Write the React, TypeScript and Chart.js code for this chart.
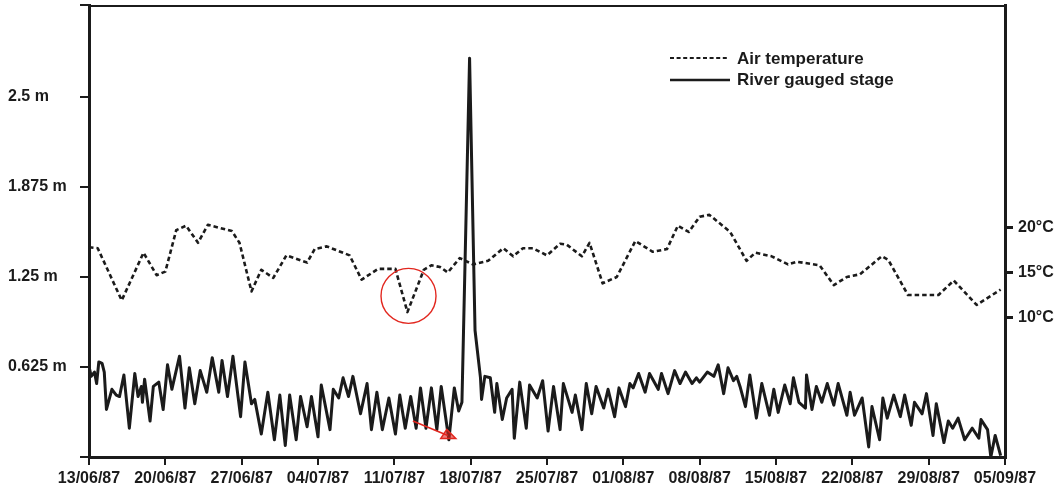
import React, { useEffect, useRef } from 'react';
import { Chart, registerables } from 'chart.js';

Chart.register(...registerables);

// ---- Data ----
// x axis: days since 13/06/87
const xTickDays = [0, 7, 14, 21, 28, 35, 42, 49, 56, 63, 70, 77, 84];
const xTickLabels = ['13/06/87', '20/06/87', '27/06/87', '04/07/87', '11/07/87', '18/07/87', '25/07/87', '01/08/87', '08/08/87', '15/08/87', '22/08/87', '29/08/87', '05/09/87'];

const stageTicks = [0.625, 1.25, 1.875, 2.5];
const stageTickLabels = ['0.625 m', '1.25 m', '1.875 m', '2.5 m'];
const stageMax = 3.139;

const tempTicks = [10, 15, 20];
const tempTickLabels = ['10°C', '15°C', '20°C'];
const tempMin = -5.5;
const tempMax = 44.72;

// River gauged stage (m)
const stageDaysA = [0.0, 0.2, 0.5, 0.7, 0.9, 1.2, 1.4, 1.6, 2.1, 2.5, 2.8, 3.2, 3.7, 4.2, 4.5, 4.8, 4.9, 5.1, 5.6, 5.9, 6.4, 6.8, 7.2, 7.6, 8.3, 8.8, 9.2, 9.7, 10.2, 10.8, 11.3, 11.9, 12.2, 12.7, 13.2, 13.9, 14.3, 14.9, 15.2, 15.8, 16.4, 17.0, 17.5, 18.0, 18.4, 19.0, 19.4, 20.0, 20.4, 21.0, 21.3, 22.1, 22.4, 22.9, 23.3, 23.8, 24.2, 24.9, 25.5, 25.9, 26.4, 26.9, 27.5, 28.1];
const stageValuesA = [0.63, 0.56, 0.59, 0.51, 0.66, 0.65, 0.59, 0.33, 0.47, 0.43, 0.42, 0.57, 0.20, 0.58, 0.42, 0.49, 0.38, 0.54, 0.25, 0.49, 0.52, 0.33, 0.64, 0.47, 0.70, 0.34, 0.62, 0.37, 0.60, 0.45, 0.69, 0.45, 0.67, 0.42, 0.70, 0.28, 0.66, 0.37, 0.40, 0.16, 0.45, 0.12, 0.43, 0.08, 0.43, 0.12, 0.42, 0.21, 0.42, 0.14, 0.50, 0.19, 0.47, 0.41, 0.55, 0.42, 0.56, 0.30, 0.51, 0.19, 0.45, 0.19, 0.41, 0.16];

const stageDaysB = [28.5, 29.0, 29.5, 30.0, 30.4, 30.9, 31.4, 31.9, 32.3, 33.0, 33.5, 33.9, 34.2, 34.9, 35.4, 35.9, 36.0, 36.3, 36.8, 37.2, 37.4, 37.9, 38.3, 38.8, 39.0, 39.5, 40.1, 40.4, 41.1, 41.6, 42.1, 42.6, 43.2, 43.5, 44.3, 44.6, 45.2, 45.6, 46.1, 46.5, 47.2, 47.6, 48.2, 48.6, 49.2, 49.6, 49.9, 50.4, 51.0, 51.4, 52.2, 52.5, 53.1, 53.7, 54.2, 54.7, 55.3, 55.7, 56.0];
const stageValuesB = [0.43, 0.20, 0.42, 0.20, 0.48, 0.20, 0.48, 0.19, 0.49, 0.12, 0.48, 0.32, 0.38, 2.77, 0.88, 0.55, 0.40, 0.56, 0.55, 0.31, 0.51, 0.26, 0.41, 0.47, 0.13, 0.52, 0.20, 0.50, 0.41, 0.53, 0.18, 0.49, 0.19, 0.51, 0.31, 0.43, 0.19, 0.51, 0.30, 0.49, 0.34, 0.47, 0.28, 0.48, 0.35, 0.51, 0.48, 0.58, 0.45, 0.58, 0.47, 0.58, 0.44, 0.60, 0.51, 0.59, 0.51, 0.55, 0.52];

const stageDaysC = [56.7, 57.3, 57.7, 58.2, 58.6, 59.1, 59.4, 59.7, 60.2, 60.6, 61.2, 61.7, 62.4, 62.8, 63.2, 63.8, 64.3, 64.6, 65.1, 65.7, 65.8, 66.3, 66.7, 67.2, 67.7, 68.3, 68.7, 69.5, 69.8, 70.2, 70.9, 71.5, 71.8, 72.5, 72.8, 73.2, 73.8, 74.4, 74.8, 75.4, 75.7, 76.4, 76.8, 77.4, 77.7, 78.4, 78.8, 79.2, 79.7, 80.3, 81.0, 81.6, 81.8, 82.4, 82.7, 83.1, 83.6];
const stageValuesC = [0.59, 0.56, 0.64, 0.44, 0.62, 0.53, 0.56, 0.49, 0.35, 0.57, 0.27, 0.51, 0.29, 0.47, 0.31, 0.50, 0.37, 0.55, 0.38, 0.34, 0.57, 0.33, 0.49, 0.38, 0.51, 0.36, 0.51, 0.29, 0.45, 0.29, 0.41, 0.07, 0.35, 0.12, 0.41, 0.27, 0.43, 0.28, 0.43, 0.22, 0.38, 0.30, 0.44, 0.15, 0.37, 0.10, 0.25, 0.20, 0.27, 0.12, 0.20, 0.13, 0.26, 0.19, 0.00, 0.15, 0.01];

// Air temperature (°C)
const tempDays = [0, 0.8, 3.0, 5.0, 6.2, 7.0, 8.0, 8.9, 10.0, 10.9, 13.1, 13.8, 14.9, 15.8, 16.9, 18.1, 20.0, 20.7, 21.8, 23.9, 25.0, 26.5, 28.1, 29.2, 30.7, 31.4, 32.2, 32.9, 34.0, 35.2, 36.6, 38.0, 38.9, 39.8, 40.7, 42.0, 43.2, 43.8, 45.2, 45.9, 47.1, 48.4, 50.1, 51.7, 53.0, 54.0, 55.0, 56.0, 56.9, 58.8, 60.3, 61.1, 62.6, 64.1, 64.9, 67.0, 68.3, 69.5, 70.7, 72.7, 73.3, 75.1, 77.9, 79.3, 81.4, 83.6];
const tempValues = [17.8, 17.7, 11.9, 17.2, 14.7, 15.1, 19.7, 20.2, 18.3, 20.3, 19.6, 18.3, 12.9, 15.3, 14.4, 16.9, 16.1, 17.6, 17.9, 16.9, 14.2, 15.4, 15.4, 10.6, 15.3, 15.8, 15.6, 15.0, 16.6, 15.9, 16.3, 17.7, 16.8, 17.7, 17.7, 16.9, 18.2, 18.1, 16.8, 18.3, 13.8, 14.5, 18.5, 17.3, 17.6, 20.2, 19.5, 21.2, 21.4, 19.5, 16.3, 17.2, 16.8, 15.9, 16.2, 15.8, 13.6, 14.5, 14.8, 16.8, 16.4, 12.5, 12.5, 14.1, 11.4, 13.1];

// Annotations (in data units)
const circleCentre = { day: 29.3, temp: 12.4 };
const arrowFrom = { day: 29.7, stage: 0.25 };
const arrowTo = { day: 32.9, stage: 0.15 };

// ---- Styles ----
const INK = '#1b1b1b';
const RED = '#e2271f';
const FONT = '"Liberation Sans", Arial, Helvetica, sans-serif';

function pairs(days: number[], vals: number[]) {
  const n = Math.min(days.length, vals.length);
  const out: { x: number; y: number }[] = [];
  for (let i = 0; i < n; i++) out.push({ x: days[i], y: vals[i] });
  return out;
}

const overlayPlugin = {
  id: 'overlay',
  afterDatasetsDraw(chart: any) {
    const { ctx, chartArea, scales } = chart;
    const x = scales.x, yS = scales.yS, yT = scales.yT;
    ctx.save();
    // top frame line
    ctx.strokeStyle = INK;
    ctx.lineWidth = 2;
    ctx.setLineDash([]);
    ctx.beginPath();
    ctx.moveTo(chartArea.left, chartArea.top + 1);
    ctx.lineTo(chartArea.right, chartArea.top + 1);
    ctx.stroke();

    // red circle around the temperature dip
    const cx = x.getPixelForValue(circleCentre.day);
    const cy = yT.getPixelForValue(circleCentre.temp);
    ctx.strokeStyle = RED;
    ctx.lineWidth = 1.4;
    ctx.beginPath();
    ctx.arc(cx, cy, 27.5, 0, Math.PI * 2);
    ctx.stroke();

    // red arrow toward the stage low
    const ax = x.getPixelForValue(arrowFrom.day);
    const ay = yS.getPixelForValue(arrowFrom.stage);
    const bx = x.getPixelForValue(arrowTo.day);
    const by = yS.getPixelForValue(arrowTo.stage);
    ctx.lineWidth = 1.6;
    ctx.beginPath();
    ctx.moveTo(ax, ay);
    ctx.lineTo(bx, by);
    ctx.stroke();
    ctx.beginPath();
    ctx.moveTo(bx - 7, by + 3);
    ctx.lineTo(bx + 8, by + 3);
    ctx.lineTo(bx - 1, by - 6);
    ctx.closePath();
    ctx.fillStyle = 'rgba(226,39,31,0.6)';
    ctx.fill();
    ctx.lineWidth = 1.5;
    ctx.stroke();

    // legend
    const lx = chartArea.left + 581;
    const ly1 = chartArea.top + 53;
    const ly2 = chartArea.top + 75;
    ctx.strokeStyle = INK;
    ctx.lineWidth = 2;
    ctx.setLineDash([4, 2.6]);
    ctx.beginPath();
    ctx.moveTo(lx, ly1);
    ctx.lineTo(lx + 58, ly1);
    ctx.stroke();
    ctx.setLineDash([]);
    ctx.lineWidth = 2.6;
    ctx.beginPath();
    ctx.moveTo(lx, ly2);
    ctx.lineTo(lx + 60, ly2);
    ctx.stroke();
    ctx.fillStyle = INK;
    ctx.font = 'bold 17px ' + FONT;
    ctx.textAlign = 'left';
    ctx.textBaseline = 'middle';
    ctx.fillText('Air temperature', lx + 67, ly1 + 1);
    ctx.fillText('River gauged stage', lx + 67, ly2);
    ctx.restore();
  },
};

function zeroPad(scale: any) {
  scale.paddingTop = 0;
  scale.paddingBottom = 0;
  scale.paddingLeft = 0;
  scale.paddingRight = 0;
}

export default function App() {
  const ref = useRef<HTMLCanvasElement | null>(null);

  useEffect(() => {
    document.body.style.margin = '0';
    if (!ref.current) return;
    const stagePoints = [
      ...pairs(stageDaysA, stageValuesA),
      ...pairs(stageDaysB, stageValuesB),
      ...pairs(stageDaysC, stageValuesC),
    ];
    const tempPoints = pairs(tempDays, tempValues);
    const tickFont = { family: FONT, size: 16, weight: 'bold' as const };
    const leftTickValues = [0, ...stageTicks, stageMax];

    const chart = new Chart(ref.current, {
      type: 'line',
      data: {
        datasets: [
          {
            label: 'Air temperature',
            data: tempPoints,
            yAxisID: 'yT',
            borderColor: INK,
            borderWidth: 2.6,
            borderDash: [4.5, 3],
            borderJoinStyle: 'round',
            pointRadius: 0,
            tension: 0,
            fill: false,
          },
          {
            label: 'River gauged stage',
            data: stagePoints,
            yAxisID: 'yS',
            borderColor: INK,
            borderWidth: 3,
            borderJoinStyle: 'round',
            pointRadius: 0,
            tension: 0,
            fill: false,
          },
        ],
      },
      options: {
        animation: false,
        responsive: true,
        maintainAspectRatio: false,
        parsing: true,
        layout: { padding: { left: 8, top: 5, right: 0, bottom: 0 } },
        plugins: { legend: { display: false }, tooltip: { enabled: false } },
        scales: {
          x: {
            type: 'linear',
            min: 0,
            max: 84,
            afterBuildTicks: (s: any) => { s.ticks = xTickDays.map((v) => ({ value: v })); },
            afterFit: (s: any) => { s.height = 35; zeroPad(s); },
            ticks: {
              autoSkip: false,
              maxRotation: 0,
              minRotation: 0,
              padding: 4,
              color: INK,
              font: tickFont,
              callback: (v: any) => {
                const i = xTickDays.indexOf(Number(v));
                return i >= 0 ? xTickLabels[i] : '';
              },
            },
            grid: { display: true, drawOnChartArea: false, drawTicks: true, tickLength: 8, tickWidth: 2, tickColor: INK, lineWidth: 2, color: INK },
            border: { display: true, color: INK, width: 3 },
          },
          yS: {
            type: 'linear',
            position: 'left',
            min: 0,
            max: stageMax,
            afterBuildTicks: (s: any) => { s.ticks = leftTickValues.map((v) => ({ value: v })); },
            afterFit: (s: any) => { s.width = 81; zeroPad(s); },
            ticks: {
              autoSkip: false,
              crossAlign: 'far',
              padding: 4,
              color: INK,
              font: tickFont,
              callback: (v: any) => {
                const i = stageTicks.indexOf(Number(v));
                return i >= 0 ? stageTickLabels[i] : '';
              },
            },
            grid: { display: true, drawOnChartArea: false, drawTicks: true, tickLength: 9, tickWidth: 2, tickColor: INK, lineWidth: 2, color: INK },
            border: { display: true, color: INK, width: 3 },
          },
          yT: {
            type: 'linear',
            position: 'right',
            min: tempMin,
            max: tempMax,
            afterBuildTicks: (s: any) => { s.ticks = tempTicks.map((v) => ({ value: v })); },
            afterFit: (s: any) => { s.width = 57; zeroPad(s); },
            ticks: {
              autoSkip: false,
              padding: 5,
              color: INK,
              font: tickFont,
              callback: (v: any) => {
                const i = tempTicks.indexOf(Number(v));
                return i >= 0 ? tempTickLabels[i] : '';
              },
            },
            grid: { display: true, drawOnChartArea: false, drawTicks: true, tickLength: 8, tickWidth: 3, tickColor: INK, lineWidth: 3, color: INK },
            border: { display: true, color: INK, width: 3 },
          },
        },
      },
      plugins: [overlayPlugin],
    });
    return () => chart.destroy();
  }, []);

  return (
    <div style={{ width: 1062, height: 492, position: 'relative', background: '#fff' }}>
      <canvas ref={ref} />
    </div>
  );
}
